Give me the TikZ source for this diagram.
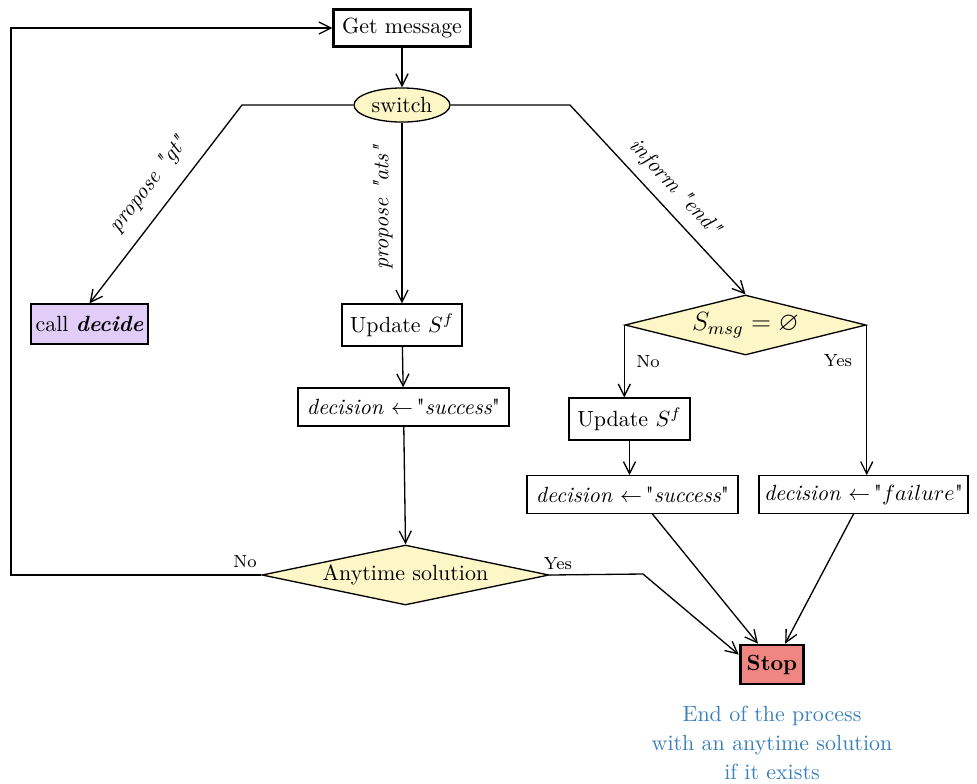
\documentclass[tikz,border=0pt]{standalone}
\usepackage{amssymb}
\usepackage{fontspec}
\setmainfont{Latin Modern Roman}[Ligatures=TeXOff]
\usetikzlibrary{shapes.geometric,arrows.meta,calc}
\definecolor{pyellow}{HTML}{FDF6C6}
\definecolor{plav}{HTML}{E2CCF8}
\definecolor{psalmon}{HTML}{F08682}
\definecolor{pblue}{HTML}{3A80BA}
\begin{document}
\begin{tikzpicture}[x=0.455pt,y=-0.455pt,
  >={Straight Barb[length=5.5pt,width=5.5pt]},
  every path/.style={line width=0.6pt},
  box/.style={draw, rectangle, line width=0.6pt, inner xsep=2pt, inner ysep=2pt},
  thickbox/.style={box, line width=1.3pt},
  ell/.style={draw, ellipse, fill=pyellow, inner sep=0pt, minimum width=43.7pt, minimum height=15.5pt},
  dia/.style={draw, diamond, fill=pyellow, inner sep=0pt, minimum height=27.3pt},
  lab/.style={font=\itshape, inner sep=1pt},
  yn/.style={font=\footnotesize, inner sep=1pt},
  note/.style={text=pblue, align=center, font=\normalsize}
]
\useasboundingbox (0,0) rectangle (977,783);

% nodes
\node[thickbox, minimum width=62pt, minimum height=16.8pt] (get) at (402,28) {Get message};
\node[ell] (sw) at (402,105) {switch};
\node[box, fill=plav, minimum width=53pt, minimum height=18.2pt] (decide) at (89.5,324) {call \textbf{\textit{decide}}};
\node[box, minimum width=54.6pt, minimum height=19pt] (upd1) at (402,325) {Update $S^f$};
\node[box, minimum width=96pt, minimum height=17.3pt] (dec1) at (403.5,407) {\textit{decision}~$\leftarrow$\,"\textit{success}"};
\node[dia, aspect=4.78, minimum width=130.6pt] (any) at (405.5,575) {Anytime solution};
\node[dia, aspect=4.0, minimum width=109.7pt] (cond) at (745.5,325) {\large $S_{msg} = \varnothing$};
\node[box, minimum width=55pt, minimum height=19pt] (upd2) at (629.5,419) {Update $S^f$};
\node[box, minimum width=96pt, minimum height=17pt] (dec2) at (632.5,494.5) {\textit{decision}~$\leftarrow$\,"\textit{success}"};
\node[box, minimum width=95pt, minimum height=17pt] (dec3) at (863.5,494.5) {\textit{decision}~$\leftarrow$\,"$failure$"};
\node[thickbox, fill=psalmon, minimum width=29pt, minimum height=17.7pt] (stop) at (772,664.5) {\textbf{Stop}};
\node[note] (nt) at (772,743) {End of the process\\[1.2pt] with an anytime solution\\[1.2pt] if it exists};

% bend points
\coordinate (kL) at (242,105);
\coordinate (kR) at (570,105);
\coordinate (kY) at (643,574);
\coordinate (lft) at (11,0);

% connectors
\draw[->] (get) -- (sw);
\draw[->] (sw.west) -- (kL) -- node[lab, sloped, above=5.5pt, pos=0.48] {propose "gt"} (decide.north);
\draw[<-] (upd1.north) -- node[lab, sloped, above=3pt, pos=0.53] {propose "ats"} (sw.south);
\draw[->] (sw.east) -- (kR) -- node[lab, sloped, above=3.5pt, pos=0.51] {inform "end"} (cond.north);
\draw[->] (upd1) -- (dec1);
\draw[->] (dec1) -- (any.north);
\draw[->] (any.west) -- (any.west -| lft) |- (get.west);
\node[yn] at (245,562) {No};
\draw[->] (any.east) -- (kY) -- ([yshift=4.5pt]stop.west);
\node[yn] at (558,564) {Yes};
\draw[->] (cond.west) -- (cond.west |- upd2.north);
\node[yn] at (648,362) {No};
\draw[->] (cond.east) -- (cond.east |- dec3.north);
\node[yn] at (838,361) {Yes};
\draw[->] (upd2) -- (upd2 |- dec2.north);
\draw[->] ([xshift=9pt]dec2.south) -- ([xshift=-6.4pt]stop.north);
\draw[->] ([xshift=-4.5pt]dec3.south) -- ([xshift=6pt]stop.north);
\end{tikzpicture}
\end{document}
